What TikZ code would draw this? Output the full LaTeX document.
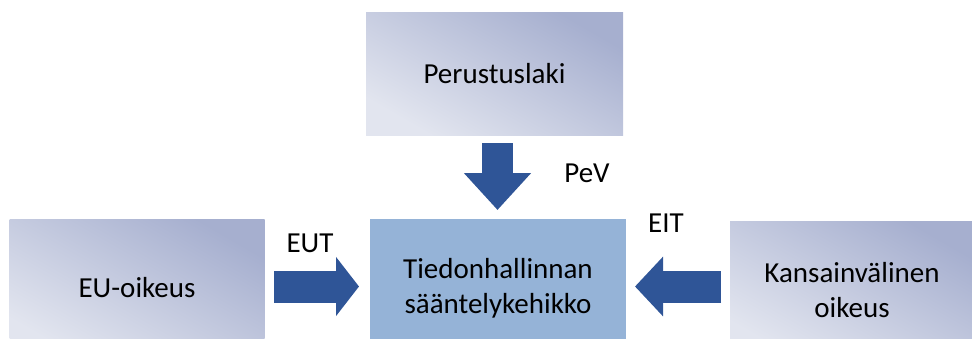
\documentclass[tikz,border=0pt]{standalone}
\usepackage{fontspec}
\setmainfont{Carlito}
\usetikzlibrary{arrows.meta,calc}
\definecolor{gdark}{HTML}{A6AFCF}
\definecolor{glight}{HTML}{E2E5EF}
\definecolor{ctrfill}{HTML}{95B3D7}
\definecolor{arrowblue}{HTML}{2F5597}
\tikzset{
  gradbox/.style={rectangle, inner sep=0pt, outer sep=0pt, shading=axis,
    top color=gdark, bottom color=glight, shading angle=-30,
    align=center, font=\fontsize{29}{35}\selectfont},
  ctrbox/.style={rectangle, inner sep=0pt, outer sep=0pt, fill=ctrfill,
    align=center, font=\fontsize{29}{35}\selectfont},
  bigarrow/.style={draw=arrowblue, line width=32pt,
    -{Triangle[length=#1, width=58pt]}},
  lbl/.style={inner sep=0pt, anchor=base, font=\fontsize{29}{35}\selectfont}
}
\begin{document}
\begin{tikzpicture}[x=1pt,y=-1pt]
\useasboundingbox (0,0) rectangle (972,338);
\clip (0,0) rectangle (972,338);
\node[gradbox, minimum width=257pt, minimum height=123pt] (pl) at (494.5,73.5) {Perustuslaki};
\node[gradbox, minimum width=255pt, minimum height=138pt] (eu) at (137,288) {EU-oikeus};
\node[ctrbox, minimum width=256pt, minimum height=138pt] (ctr) at (498,288) {Tiedonhallinnan\\sääntelykehikko};
\node[gradbox, minimum width=244pt, minimum height=138pt] (kv) at (852,290) {Kansainvälinen\\oikeus};
\coordinate (top) at (497.5,143);
\coordinate (eutS) at (274,286.5);
\coordinate (eitS) at (721,286.5);
\draw[draw=arrowblue, line width=31pt, -{Triangle[length=37pt, width=65pt]}] (top) -- ($(top |- ctr.north)+(0,-9)$);
\draw[bigarrow=23pt] (eutS) -- ($(ctr.west |- eutS)+(-11,0)$);
\draw[bigarrow=28pt] (eitS) -- ($(ctr.east |- eitS)+(9,0)$);
\node[lbl] (pev) at (587,182) {PeV};
\node[lbl] (eut) at (310,252) {EUT};
\node[lbl] (eit) at (666,232) {EIT};
\end{tikzpicture}
\end{document}
